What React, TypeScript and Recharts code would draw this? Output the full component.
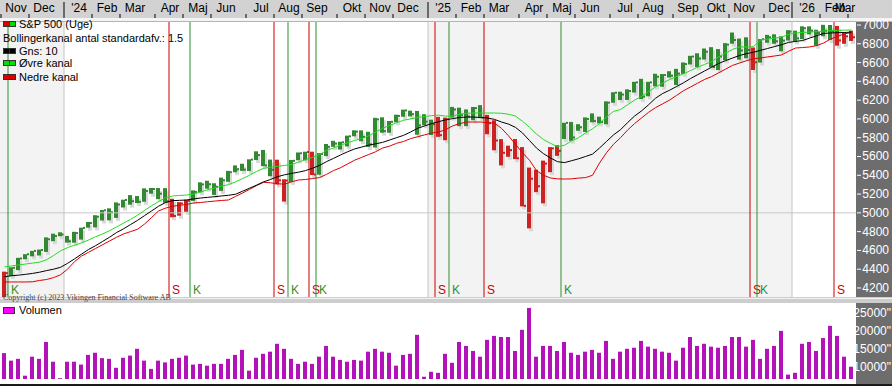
import React from 'react'
import {
  ComposedChart,
  BarChart,
  Bar,
  Line,
  XAxis,
  YAxis,
  ReferenceLine,
  ReferenceArea
} from 'recharts'

// Ugentlige S&P 500 data, uge 0 = uge startende 30. okt 2023
const highs = [
  4374, 4421, 4521, 4560, 4595, 4609, 4739, 4778, 4793, 4754, 4798, 4842, 4903, 4975, 5030, 5048, 5111, 5140, 5189, 5179,
  5261, 5265, 5264, 5263, 5150, 5114, 5139, 5239, 5325, 5342, 5315, 5375, 5447, 5505, 5523, 5570, 5655, 5670, 5567, 5566,
  5358, 5563, 5643, 5651, 5651, 5636, 5733, 5767, 5757, 5822, 5879, 5878, 5863, 6012, 6017, 5978, 6045, 6099, 6088, 6085,
  6050, 5992, 6022, 6014, 6128, 6120, 6101, 6127, 6147, 6043, 5986, 5785, 5715, 5786, 5700, 5482, 5459, 5556, 5700, 5720,
  5959, 5968, 5944, 6016, 6059, 6024, 6187, 6284, 6290, 6315, 6395, 6427, 6395, 6481, 6478, 6508, 6533, 6601, 6672, 6699,
  6750, 6764, 6744, 6807, 6920, 6856, 6869, 6760, 6850, 6895, 6901, 6880, 6945, 6940, 6986, 6986, 6950, 7002, 7000, 6990,
  6920, 6940
]
const lows = [
  4103, 4329, 4390, 4506, 4537, 4546, 4584, 4698, 4751, 4683, 4682, 4715, 4842, 4845, 4918, 4920, 4946, 5057, 5087, 5104,
  5118, 5204, 5146, 5107, 4953, 4970, 5012, 5127, 5218, 5257, 5191, 5234, 5331, 5432, 5447, 5446, 5562, 5497, 5390, 5302,
  5120, 5329, 5560, 5560, 5403, 5406, 5604, 5703, 5674, 5707, 5815, 5762, 5702, 5696, 5853, 5853, 5964, 6023, 6027, 5832,
  5932, 5829, 5809, 5773, 6014, 5923, 5923, 5986, 6008, 5837, 5666, 5505, 5597, 5572, 5069, 4835, 5220, 5101, 5433, 5607,
  5786, 5767, 5874, 5861, 5964, 5952, 5943, 6172, 6201, 6202, 6281, 6212, 6241, 6346, 6343, 6441, 6361, 6480, 6580, 6551,
  6632, 6550, 6520, 6624, 6801, 6631, 6646, 6521, 6600, 6811, 6800, 6720, 6835, 6824, 6850, 6900, 6780, 6880, 6840, 6780,
  6800, 6830
]
const closes = [
  4358, 4415, 4514, 4559, 4595, 4604, 4719, 4754, 4770, 4697, 4784, 4840, 4891, 4959, 5027, 5006, 5089, 5137, 5124, 5117,
  5234, 5254, 5204, 5123, 4967, 5100, 5128, 5223, 5303, 5305, 5278, 5347, 5432, 5464, 5460, 5567, 5615, 5505, 5459, 5346,
  5344, 5554, 5634, 5648, 5408, 5626, 5703, 5738, 5751, 5815, 5865, 5808, 5729, 5995, 5870, 5969, 6032, 6090, 6051, 5931,
  5971, 5942, 5827, 5997, 6101, 6041, 6026, 6115, 6013, 5955, 5770, 5639, 5668, 5581, 5074, 5363, 5283, 5525, 5686, 5660,
  5958, 5803, 5912, 6000, 5977, 5967, 6173, 6279, 6260, 6297, 6389, 6238, 6389, 6450, 6467, 6460, 6482, 6584, 6664, 6643,
  6716, 6553, 6664, 6791, 6840, 6729, 6734, 6603, 6849, 6870, 6827, 6834, 6930, 6858, 6966, 6940, 6915, 6939, 6932, 6836,
  6880, 6870
]
const gns = [
  4320, 4330, 4337, 4345, 4355, 4368, 4385, 4400, 4420, 4462, 4510, 4560, 4610, 4650, 4695, 4740, 4790, 4830, 4875, 4920,
  4970, 5020, 5070, 5110, 5130, 5133, 5137, 5148, 5158, 5165, 5172, 5180, 5187, 5198, 5230, 5262, 5295, 5330, 5355, 5385,
  5405, 5420, 5433, 5450, 5475, 5505, 5545, 5580, 5616, 5650, 5680, 5700, 5720, 5735, 5750, 5775, 5800, 5825, 5860, 5900,
  5925, 5950, 5970, 5990, 6003, 6015, 6020, 6020, 6015, 6010, 5995, 5967, 5945, 5910, 5850, 5770, 5690, 5630, 5584, 5545,
  5535, 5555, 5575, 5600, 5625, 5690, 5760, 5830, 5885, 5960, 6030, 6085, 6150, 6220, 6270, 6305, 6345, 6385, 6430, 6470,
  6510, 6550, 6590, 6620, 6648, 6675, 6695, 6710, 6730, 6750, 6770, 6790, 6815, 6825, 6835, 6860, 6885, 6910, 6915, 6918,
  6920, 6925
]
const ovre = [
  4425, 4435, 4445, 4455, 4465, 4475, 4500, 4545, 4595, 4630, 4655, 4680, 4710, 4745, 4775, 4810, 4850, 4890, 4930, 4975,
  5025, 5075, 5120, 5160, 5180, 5185, 5190, 5200, 5222, 5245, 5265, 5285, 5300, 5330, 5365, 5400, 5440, 5475, 5485, 5495,
  5505, 5515, 5540, 5565, 5590, 5620, 5665, 5690, 5720, 5745, 5770, 5790, 5820, 5860, 5900, 5930, 5960, 5985, 6000, 6015,
  6025, 6035, 6040, 6030, 6030, 6050, 6060, 6063, 6063, 6063, 6063, 6060, 6050, 6030, 5975, 5910, 5840, 5780, 5740, 5705,
  5720, 5765, 5800, 5850, 5895, 5950, 6020, 6080, 6100, 6150, 6200, 6240, 6290, 6340, 6380, 6420, 6450, 6480, 6515, 6550,
  6580, 6610, 6660, 6700, 6740, 6766, 6766, 6770, 6840, 6850, 6860, 6870, 6900, 6915, 6920, 6925, 6930, 6936, 6940, 6943,
  6945, 6947
]
const nedre = [
  4264, 4264, 4264, 4264, 4266, 4280, 4290, 4310, 4340, 4400, 4480, 4540, 4580, 4620, 4660, 4700, 4740, 4775, 4800, 4825,
  4880, 4950, 5020, 5050, 5070, 5080, 5090, 5105, 5110, 5118, 5125, 5132, 5137, 5175, 5211, 5250, 5290, 5325, 5320, 5310,
  5305, 5330, 5350, 5355, 5365, 5375, 5410, 5450, 5480, 5520, 5560, 5590, 5620, 5650, 5690, 5710, 5740, 5760, 5790, 5810,
  5830, 5850, 5860, 5885, 5925, 5950, 5967, 5967, 5967, 5960, 5955, 5900, 5820, 5730, 5640, 5560, 5450, 5400, 5371, 5362,
  5360, 5362, 5370, 5375, 5400, 5530, 5640, 5730, 5800, 5880, 5950, 6010, 6070, 6120, 6160, 6200, 6250, 6300, 6340, 6380,
  6420, 6450, 6490, 6530, 6570, 6595, 6620, 6640, 6649, 6660, 6670, 6681, 6720, 6755, 6760, 6766, 6780, 6808, 6850, 6880,
  6905, 6920
]
const volumen = [
  13800, 11700, 12200, 7500, 12800, 12200, 16900, 11400, 6800, 11400, 11400, 10600, 13300, 13900, 12400, 12200, 9700, 12500, 13100, 15000,
  11700, 9400, 11700, 11200, 12200, 12500, 13100, 10600, 10800, 10300, 10800, 10800, 12200, 13300, 14700, 8900, 12500, 13600, 14200, 16400,
  15000, 12200, 10800, 11400, 10800, 12800, 15800, 12800, 11900, 11400, 11900, 11700, 14200, 15000, 14200, 13900, 10300, 13300, 13600, 18900,
  7200, 8600, 8300, 13600, 11100, 16900, 15800, 14400, 12800, 17500, 18600, 18300, 18300, 14400, 20300, 26400, 12800, 15800, 15800, 14400,
  16900, 13900, 13300, 14200, 14700, 13900, 17200, 12200, 14200, 15000, 15300, 17200, 15600, 15000, 14200, 13900, 11700, 15300, 18300, 15800,
  16400, 15600, 15300, 15800, 18300, 18300, 15600, 17500, 12200, 15000, 15800, 20000, 7800, 8300, 16400, 16900, 14400, 18000, 21400, 18600,
  12800, 10000
]

// Signaler: S = sælg, K = køb (uge-index)
const signalWeeks = [1, 24, 27, 39, 41, 44, 45, 62, 64, 69, 80, 107, 108, 119]
const signalTypes = ['K', 'S', 'K', 'S', 'K', 'S', 'K', 'S', 'K', 'S', 'K', 'S', 'K', 'S']

const monthLabels = [
  'Nov', 'Dec', "'24", 'Feb', 'Mar', 'Apr', 'Maj', 'Jun', 'Jul', 'Aug', 'Sep', 'Okt', 'Nov', 'Dec',
  "'25", 'Feb', 'Mar', 'Apr', 'Maj', 'Jun', 'Jul', 'Aug', 'Sep', 'Okt', 'Nov', 'Dec', "'26", 'Feb', 'Mar'
]
const monthStarts = [
  '2023-11-01', '2023-12-01', '2024-01-01', '2024-02-01', '2024-03-01', '2024-04-01', '2024-05-01',
  '2024-06-01', '2024-07-01', '2024-08-01', '2024-09-01', '2024-10-01', '2024-11-01', '2024-12-01',
  '2025-01-01', '2025-02-01', '2025-03-01', '2025-04-01', '2025-05-01', '2025-06-01', '2025-07-01',
  '2025-08-01', '2025-09-01', '2025-10-01', '2025-11-01', '2025-12-01', '2026-01-01', '2026-02-01', '2026-03-01'
]
const priceTicks = [4200, 4400, 4600, 4800, 5000, 5200, 5400, 5600, 5800, 6000, 6200, 6400, 6600, 6800, 7000]
const volumeTicks = [10000, 15000, 20000, 25000]

const FIRST_WEEK = Date.UTC(2023, 9, 30)
const weekOf = (s: string) => {
  const [y, m, d] = s.split('-').map(Number)
  return Math.floor((Date.UTC(y, m - 1, d) - FIRST_WEEK) / (7 * 86400000)) - 0.5
}
const monthTicks = monthStarts.map(weekOf)
const yearTicks = monthTicks.filter((_, k) => monthLabels[k].startsWith("'"))

const X_DOMAIN: [number, number] = [-4.5 / 7, 121 + 4.5 / 7]

const GREEN_BAR = '#338833'
const RED_BAR = '#cc2222'
const FONT = '"Liberation Sans", Arial, sans-serif'

const stateAt = (i: number) => {
  let s = 'S'
  signalWeeks.forEach((w, k) => {
    if (w <= i) s = signalTypes[k]
  })
  return s
}

const data = highs.map((h, i) => ({
  i,
  range: [lows[i], h],
  high: h,
  low: lows[i],
  close: closes[i],
  gns: gns[i],
  ovre: ovre[i],
  nedre: nedre[i],
  vol: volumen[i],
  state: stateAt(i)
}))

const OhlcBar = (props: any) => {
  const { x, y, width, height, payload } = props
  if (height == null || isNaN(y)) return null
  const cx = x + width / 2
  const color = payload.state === 'K' ? GREEN_BAR : RED_BAR
  const h = Math.max(height, 1)
  const cy = y + ((payload.high - payload.close) / (payload.high - payload.low)) * h
  return (
    <g>
      <rect x={cx} y={y + 3} width={4} height={h} fill="#d9d9d9" />
      <rect x={cx - 2} y={y} width={4} height={h} fill={color} />
      <rect x={cx + 2} y={cy - 1} width={2} height={2} fill={color} />
    </g>
  )
}

const MonthTick = (props: any) => {
  const { x, payload } = props
  const k = monthTicks.indexOf(payload.value)
  if (k < 0) return null
  const label = monthLabels[k]
  const isYear = label.startsWith("'")
  const lx = Math.min(x + 15, 845)
  return (
    <g>
      {isYear
        ? <line x1={x} x2={x} y1={2} y2={18} stroke="#000" />
        : <line x1={x} x2={x} y1={14} y2={18} stroke="#000" />}
      <text x={lx} y={12} textAnchor="middle" fontSize={12} fill="#000" fontFamily={FONT}>{label}</text>
    </g>
  )
}

const PriceTick = (props: any) => {
  const { y, payload } = props
  return (
    <g>
      <line x1={857} x2={861} y1={y} y2={y} stroke="#fff" />
      <text x={889} y={y + 4} textAnchor="end" fontSize={12} fill="#fff" fontFamily={FONT}>{payload.value}</text>
    </g>
  )
}

const VolumeTick = (props: any) => {
  const { y, payload } = props
  return (
    <text x={891} y={y + 4} textAnchor="end" fontSize={12} fill="#fff" fontFamily={FONT}>{payload.value + '"'}</text>
  )
}

const Swatch = ({ a, b }: { a: string; b: string }) => (
  <span style={{ position: 'absolute', left: 3, top: 3, width: 12, height: 6 }}>
    <span style={{ position: 'absolute', left: 0, top: 0, width: 5, height: 4, background: a, border: '1px solid #333' }} />
    <span style={{ position: 'absolute', left: 6, top: 0, width: 5, height: 4, background: b, border: '1px solid #333' }} />
  </span>
)

const legendRows = [
  { text: 'S&P 500 (Uge)', a: '#e00000', b: '#00dd00', top: 18 },
  { text: 'Bollingerkanal antal standardafv.: 1.5', a: '', b: '', top: 32 },
  { text: 'Gns: 10', a: '#000', b: '#000', top: 45 },
  { text: 'Øvre kanal', a: '#00dd00', b: '#00dd00', top: 57 },
  { text: 'Nedre kanal', a: '#e00000', b: '#e00000', top: 71 }
]

export default function App() {
  return (
    <div style={{
      position: 'absolute', left: 0, top: 0, width: 892, height: 386, overflow: 'hidden',
      background: '#6d6d6d', fontFamily: FONT
    }}>
      {/* baggrunde */}
      <div style={{ position: 'absolute', left: 0, top: 0, width: 892, height: 18, background: '#d2d2d2' }} />
      <div style={{ position: 'absolute', left: 0, top: 18, width: 892, height: 3, background: '#f4f4f4' }} />
      <div style={{ position: 'absolute', left: 0, top: 21, width: 892, height: 1, background: '#b4b4b4' }} />
      <div style={{ position: 'absolute', left: 0, top: 22, width: 856, height: 275, background: '#fff' }} />
      <div style={{ position: 'absolute', left: 0, top: 297, width: 892, height: 6, background: '#cdcdcd' }} />
      <div style={{ position: 'absolute', left: 0, top: 298, width: 892, height: 1, background: '#f2f2f2' }} />
      <div style={{ position: 'absolute', left: 0, top: 303, width: 856, height: 81, background: '#fff' }} />
      <div style={{ position: 'absolute', left: 0, top: 384, width: 892, height: 2, background: '#1a1a1a' }} />

      {/* kursgraf */}
      <div style={{ position: 'absolute', left: 0, top: 0 }}>
        <ComposedChart width={892} height={297} data={data} margin={{ top: 0, right: 0, bottom: 0, left: 0 }}>
          <XAxis
            dataKey="i"
            type="number"
            orientation="top"
            domain={X_DOMAIN}
            ticks={monthTicks}
            interval={0}
            height={22}
            axisLine={false}
            tickLine={false}
            tick={<MonthTick />}
            allowDataOverflow
          />
          <YAxis
            orientation="right"
            width={36}
            domain={[4104, 7032]}
            ticks={priceTicks}
            interval={0}
            axisLine={false}
            tickLine={false}
            tick={<PriceTick />}
            allowDataOverflow
          />
          <ReferenceArea x1={X_DOMAIN[0]} x2={yearTicks[0]} fill="#f3f3f3" fillOpacity={1} stroke="none" />
          <ReferenceArea x1={yearTicks[1]} x2={yearTicks[2]} fill="#f3f3f3" fillOpacity={1} stroke="none" />
          <ReferenceLine y={5000} stroke="#c8c8c8" />
          {yearTicks.map((t) => (
            <ReferenceLine key={'y' + t} x={t} stroke="#c4c4c4" />
          ))}
          {signalWeeks.map((w, k) => (
            <ReferenceLine
              key={'s' + k}
              x={w - 0.5}
              stroke={signalTypes[k] === 'S' ? '#cc0000' : '#2f8f2f'}
              label={(p: any) => (
                <text x={p.viewBox.x + 3} y={294} fontSize={12}
                  fill={signalTypes[k] === 'S' ? '#cc0000' : '#2f8f2f'}
                  fontFamily={FONT}>{signalTypes[k]}</text>
              )}
            />
          ))}
          <Bar dataKey="range" barSize={4} shape={<OhlcBar />} isAnimationActive={false} />
          <Line type="linear" dataKey="nedre" stroke="#dd0000" strokeWidth={1} dot={false} isAnimationActive={false} />
          <Line type="linear" dataKey="gns" stroke="#000" strokeWidth={1} dot={false} isAnimationActive={false} />
          <Line type="linear" dataKey="ovre" stroke="#22dd22" strokeWidth={1} dot={false} isAnimationActive={false} />
        </ComposedChart>
      </div>

      {/* volumen */}
      <div style={{ position: 'absolute', left: 0, top: 303 }}>
        <BarChart width={892} height={80} data={data} margin={{ top: 0, right: 0, bottom: 4, left: 0 }}>
          <XAxis dataKey="i" type="number" domain={X_DOMAIN} hide allowDataOverflow />
          <YAxis
            orientation="right"
            width={36}
            domain={[6574, 27778]}
            ticks={volumeTicks}
            interval={0}
            axisLine={false}
            tickLine={false}
            tick={<VolumeTick />}
            allowDataOverflow
          />
          <Bar dataKey="vol" barSize={4} fill="#b312b8" isAnimationActive={false} />
        </BarChart>
      </div>

      {/* legender */}
      {legendRows.map((r) => (
        <div key={r.text} style={{ position: 'absolute', left: 0, top: r.top, height: 13, fontSize: 11, lineHeight: '13px', color: '#000', whiteSpace: 'nowrap' }}>
          {r.a ? <Swatch a={r.a} b={r.b} /> : null}
          <span style={{ position: 'absolute', left: r.a ? 19 : 3, top: 0 }}>{r.text}</span>
        </div>
      ))}
      <div style={{ position: 'absolute', left: 0, top: 304, height: 13, fontSize: 11, lineHeight: '13px', whiteSpace: 'nowrap' }}>
        <span style={{ position: 'absolute', left: 3, top: 3, width: 10, height: 5, background: '#ff00ff', border: '1px solid #333' }} />
        <span style={{ position: 'absolute', left: 19, top: 0 }}>Volumen</span>
      </div>
      <div style={{
        position: 'absolute', left: 3, top: 293, fontSize: 8, lineHeight: '9px', color: '#444',
        fontFamily: '"Liberation Serif", "Times New Roman", serif', whiteSpace: 'nowrap'
      }}>
        Copyright (c) 2023 Vikingen Financial Software AB
      </div>
    </div>
  )
}
